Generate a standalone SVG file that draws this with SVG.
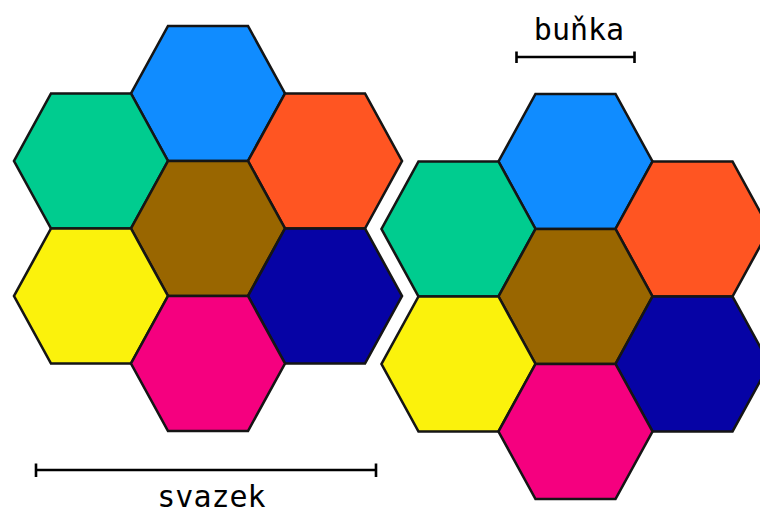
<svg xmlns="http://www.w3.org/2000/svg" xmlns:xlink="http://www.w3.org/1999/xlink" width="760" height="515" viewBox="0 0 760 515">
<style>
.hex{stroke:#151515;stroke-width:2.6;stroke-linejoin:miter}
.blue{fill:#108cff}
.green{fill:#00cc8f}
.orange{fill:#ff5522}
.brown{fill:#996600}
.yellow{fill:#fbf20c}
.navy{fill:#0603a5}
.pink{fill:#f5007f}
.bar{stroke:#000;stroke-width:2.6;fill:none}
.lbl{font-family:"DejaVu Sans Mono","Liberation Mono",monospace;font-size:30px;fill:#000;text-anchor:middle}
</style>
<defs>
<polygon id="hex" class="hex" points="-40,-67.5 40,-67.5 77,0 40,67.5 -40,67.5 -77,0"/>
</defs>
<rect width="760" height="515" fill="#fff"/>
<g id="bundle-left">
<g id="l-blue"><use xlink:href="#hex" href="#hex" x="208" y="93.5" class="blue"/></g>
<g id="l-green"><use xlink:href="#hex" href="#hex" x="91" y="161" class="green"/></g>
<g id="l-orange"><use xlink:href="#hex" href="#hex" x="325" y="161" class="orange"/></g>
<g id="l-brown"><use xlink:href="#hex" href="#hex" x="208" y="228.5" class="brown"/></g>
<g id="l-yellow"><use xlink:href="#hex" href="#hex" x="91" y="296" class="yellow"/></g>
<g id="l-navy"><use xlink:href="#hex" href="#hex" x="325" y="296" class="navy"/></g>
<g id="l-pink"><use xlink:href="#hex" href="#hex" x="208" y="363.5" class="pink"/></g>
</g>
<g id="bundle-right">
<g id="r-blue"><use xlink:href="#hex" href="#hex" x="575.5" y="161.5" class="blue"/></g>
<g id="r-green"><use xlink:href="#hex" href="#hex" x="458.5" y="229" class="green"/></g>
<g id="r-orange"><use xlink:href="#hex" href="#hex" x="692.5" y="229" class="orange"/></g>
<g id="r-brown"><use xlink:href="#hex" href="#hex" x="575.5" y="296.5" class="brown"/></g>
<g id="r-yellow"><use xlink:href="#hex" href="#hex" x="458.5" y="364" class="yellow"/></g>
<g id="r-navy"><use xlink:href="#hex" href="#hex" x="692.5" y="364" class="navy"/></g>
<g id="r-pink"><use xlink:href="#hex" href="#hex" x="575.5" y="431.5" class="pink"/></g>
</g>
<g id="connectors">
<path class="bar" d="M516.5,57 H634.5 M516.5,51.5 V63 M634.5,51.5 V63"/>
<path class="bar" d="M36,470 H376 M36,463.5 V477 M376,463.5 V477"/>
</g>
<g id="labels">
<text class="lbl" x="579" y="40">buňka</text>
<text class="lbl" x="211.5" y="507">svazek</text>
</g>
</svg>
